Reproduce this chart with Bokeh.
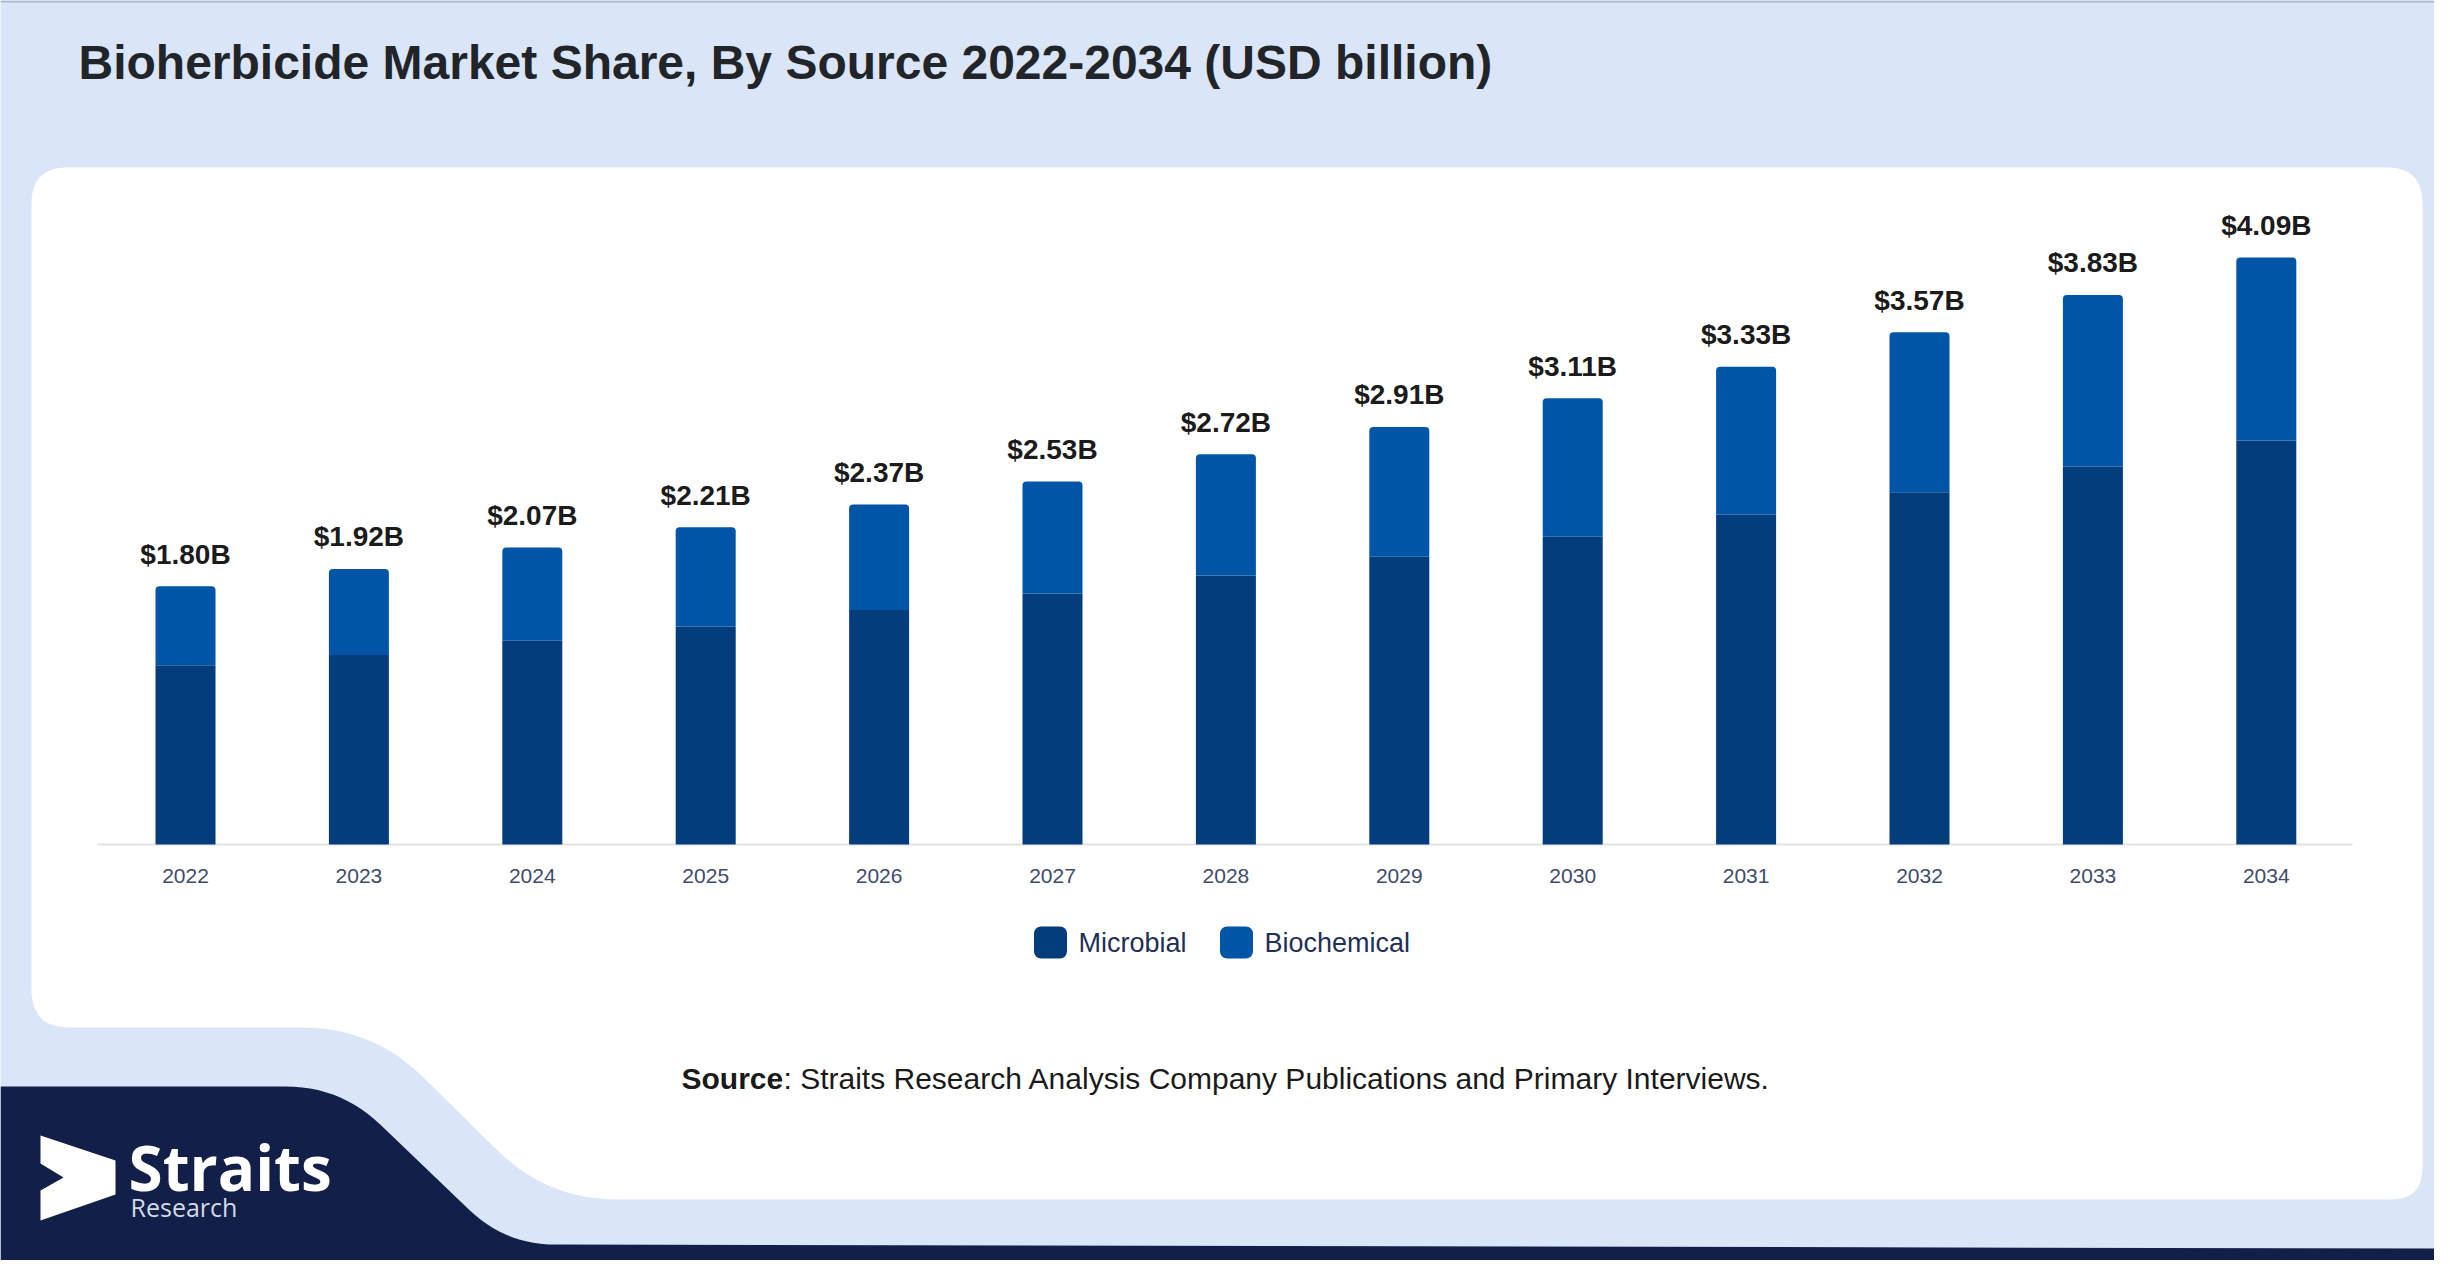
import numpy as np
from bokeh.plotting import figure
from bokeh.models import Range1d, ColumnDataSource
from bokeh.embed import file_html
from bokeh.resources import INLINE
from bokeh.core.properties import value

# ---------------- data ----------------
years = [2022, 2023, 2024, 2025, 2026, 2027, 2028, 2029, 2030, 2031, 2032, 2033, 2034]
year_labels = [str(y) for y in years]
microbial = [1.25, 1.32, 1.42, 1.52, 1.635, 1.75, 1.875, 2.005, 2.145, 2.30, 2.455, 2.635, 2.815]
biochemical = [0.55, 0.60, 0.65, 0.69, 0.735, 0.78, 0.845, 0.905, 0.965, 1.03, 1.115, 1.195, 1.275]
series_names = ["Microbial", "Biochemical"]
series_colors = ["#033d7b", "#0055a7"]
title_text = "Bioherbicide Market Share, By Source 2022-2034 (USD billion)"
source_bold = "Source"
source_rest = ": Straits Research Analysis Company Publications and Primary Interviews."
logo_main = "Straits"
logo_sub = "Research"

totals = [m + b for m, b in zip(microbial, biochemical)]
value_labels = ["$%.2fB" % t for t in totals]

# ---------------- layout constants (page pixels) ----------------
W, H = 2434, 1260
FONT = value("Liberation Sans")
BG = "#dae6f8"
NAVY = "#121f48"

X0 = 185.0      # page x of first bar centre
DX = 173.4      # page px per year
BASE_Y = 844.0  # page y of zero line
PPB = 143.5     # page px per billion USD

p = figure(width=W, height=H, x_range=Range1d(0, W), y_range=Range1d(H, 0),
           output_backend="svg", toolbar_location=None,
           x_axis_type=None, y_axis_type=None, min_border=0)
p.outline_line_color = None
p.background_fill_color = BG
p.border_fill_color = BG

p.extra_x_ranges = {"yr": Range1d(years[0] - X0 / DX, years[0] + (W - X0) / DX)}
p.extra_y_ranges = {"usd": Range1d((BASE_Y - H) / PPB, BASE_Y / PPB)}


def rounded_path(pts, radii, n=14):
    xs, ys = [], []
    pts = [np.array(q, dtype=float) for q in pts]
    k = len(pts)
    for i in range(k):
        c = pts[i]
        r = radii[i]
        if r == 0:
            xs.append(c[0]); ys.append(c[1]); continue
        pv = pts[i - 1]; nx = pts[(i + 1) % k]
        v1 = (pv - c) / np.linalg.norm(pv - c)
        v2 = (nx - c) / np.linalg.norm(nx - c)
        a = c + v1 * r
        b = c + v2 * r
        for t in np.linspace(0, 1, n):
            q = (1 - t) ** 2 * a + 2 * (1 - t) * t * c + t ** 2 * b
            xs.append(q[0]); ys.append(q[1])
    return xs, ys


# thin top border
p.segment(x0=[0], y0=[1], x1=[W], y1=[1], line_color="#a8b6d2", line_width=2)

# navy footer shape
nx_, ny_ = rounded_path([(0, 1086), (340, 1086), (505, 1244), (2450, 1248), (2450, 1280), (0, 1280)],
                        [0, 55, 50, 0, 0, 0])
p.patch(nx_, ny_, fill_color=NAVY, line_color=None)

# white panel
wx, wy = rounded_path([(31, 167), (2422, 167), (2422, 1199), (547, 1199), (372, 1027), (31, 1027)],
                      [36, 36, 32, 70, 70, 38])
p.patch(wx, wy, fill_color="white", line_color=None)

# zero line
p.segment(x0=[97], y0=[BASE_Y], x1=[2352], y1=[BASE_Y], line_color="#e2e2e2", line_width=2)

# bars
src = ColumnDataSource(dict(year=years, micro=microbial, bio=biochemical,
                            total=totals, lab=value_labels, ylab=year_labels))
bw = 60 / DX
p.vbar(x="year", bottom=0, top="micro", width=bw, source=src,
       x_range_name="yr", y_range_name="usd", fill_color=series_colors[0], line_color=None)
p.vbar(x="year", bottom="micro", top="total", width=bw, source=src,
       x_range_name="yr", y_range_name="usd", fill_color=series_colors[1], line_color=None,
       border_radius=[4, 4, 0, 0])

# value labels
src.data["lab_y"] = [t + 32 / PPB for t in totals]
p.text(x="year", y="lab_y", text="lab", source=src, x_range_name="yr", y_range_name="usd",
       text_align="center", text_baseline="middle", text_font=FONT,
       text_font_style="bold", text_font_size="28px", text_color="#1b1b1b")

# year tick labels
src.data["tick_y"] = [(BASE_Y - 875) / PPB] * len(years)
p.text(x="year", y="tick_y", text="ylab", source=src, x_range_name="yr", y_range_name="usd",
       text_align="center", text_baseline="middle", text_font=FONT,
       text_font_size="21px", text_color="#3e4b6a")

# legend
leg = ColumnDataSource(dict(x=[1050, 1236], y=[942, 942], tx=[1078, 1264],
                            name=series_names, color=series_colors))
p.rect(x="x", y="y", width=33, height=32, width_units="screen", height_units="screen",
       fill_color="color", line_color=None, source=leg, border_radius=7)
p.text(x="tx", y="y", text="name", source=leg, text_align="left", text_baseline="middle",
       text_font=FONT, text_font_size="27px", text_color="#1f2f56")

# title
p.text(x=[78], y=[62], text=[title_text], text_align="left", text_baseline="middle",
       text_font=FONT, text_font_style="bold", text_font_size="48px", text_color="#212428")

# source line
p.text(x=[681], y=[1078], text=[source_bold], text_align="left", text_baseline="middle",
       text_font=FONT, text_font_style="bold", text_font_size="30px", text_color="#1a1a1a")
p.text(x=[783], y=[1078], text=[source_rest], text_align="left", text_baseline="middle",
       text_font=FONT, text_font_size="30px", text_color="#1a1a1a")

# logo
p.patch([40, 115, 115, 40, 40, 63, 40], [1135, 1160, 1194, 1220, 1190, 1177, 1163],
        fill_color="white", line_color=None)
p.text(x=[128], y=[1166], text=[logo_main], text_align="left", text_baseline="middle",
       text_font=value("Open Sans"), text_font_style="bold", text_font_size="62px",
       text_color="white")
p.text(x=[130], y=[1206], text=[logo_sub], text_align="left", text_baseline="middle",
       text_font=value("Open Sans"), text_font_size="25px", text_color="#d4d9e6")

open("out.html", "w").write(file_html(p, INLINE))
